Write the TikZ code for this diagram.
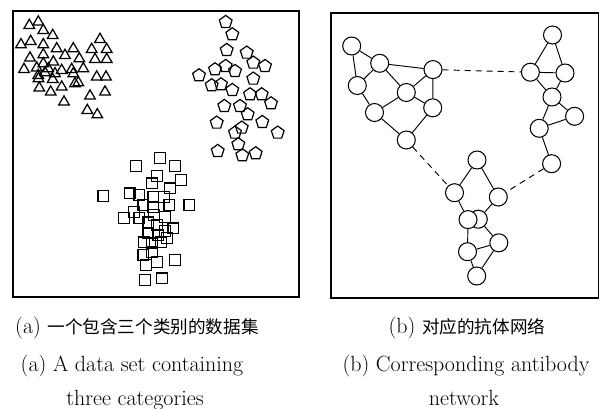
\documentclass[tikz,border=0pt]{standalone}
\usepackage{fontspec}
\newfontfamily\cjk{Noto Sans CJK SC}[Scale=0.8]
\usetikzlibrary{shapes.geometric}
\begin{document}
\begin{tikzpicture}[x=1pt,y=-1pt,
  tri/.style={regular polygon, regular polygon sides=3, draw, line width=1.25pt, inner sep=0pt, minimum size=12.3pt},
  pent/.style={regular polygon, regular polygon sides=5, draw, line width=1.2pt, inner sep=0pt, minimum size=13.4pt},
  sq/.style={rectangle, draw, line width=1.2pt, inner sep=0pt, minimum size=10.8pt},
  ab/.style={circle, draw, fill=white, line width=1.05pt, inner sep=0pt, minimum size=18pt},
  link/.style={line width=0.95pt},
  dlink/.style={line width=0.95pt, dash pattern=on 6pt off 5pt},
  frame/.style={draw, line width=1.8pt},
  captxt/.style={font=\fontsize{22}{26}\selectfont, anchor=base}
]
\useasboundingbox (0,0) rectangle (601,408);
% frames
\draw[frame] (12.8,10.8) rectangle (299,297);
\draw[frame] (331,12.7) rectangle (598.5,297.7);
% triangles
\foreach \x/\y [count=\i] in {29.3/26.7,38.3/23.3,43.3/31.7,52.7/36.7,21/46,30.7/42.7,43.3/46,100/40.7,56.7/50,73.3/50,91.7/50.7,106.7/50.7,30/59.3,43.3/56,65/56.7,79.3/60,95/60.7,106.7/60.7,24/70.7,36.7/69.3,43.3/65,53.3/63.3,48.3/70,61.7/71.7,71.7/70.7,83.3/70,38.3/76.7,55/75,73.3/75,96.7/78.3,106/78.3,39.3/89.3,50.7/93.3,61.7/88.3,75/85,78.3/84,90/97.3,105/93.3,64/103.3,87.3/111.7,97.3/116,52.7/80.7,38.5/80,45/74}
  \node[tri] (t\i) at (\x,\y-1.3) {};
% pentagons
\foreach \x/\y [count=\i] in {225.7/22.7,232.3/35,226.7/50.7,246.7/53.3,253.3/63.3,265/66.7,199/76,215/70,225.7/66.7,235/71.7,253.3/79.3,211.7/86,221/85,232.3/90.7,250/95,261.7/95,271/104,224.3/106.7,240/106.7,247.7/115,216.7/123.3,262.3/122.7,277.7/133.3,241.7/128.3,235/133.3,238.3/145,217.7/151.7,242.3/156,255.7/154}
  \node[pent] (p\i) at (\x,\y-0.6) {};
% squares
\foreach \x/\y [count=\i] in {160/157.7,135.7/165.7,175/165.7,156.7/175.7,180.7/180,151.7/183.3,170/188.3,103.3/195.7,130/193.3,139.3/195,153.3/196.7,164/196.7,143.3/205,153.3/206.7,169.3/205,189.3/205,134/211.7,124/217.7,139.3/217.7,154/215,165/216.7,148.3/222.3,156.7/225,173.3/228.3,165/231,148.3/233.3,158.3/235,166.7/237.7,144/242.3,160.7/242.3,151.7/243.3,143.3/255,151.7/252.3,156.7/261.7,146/265,175/260,145/280,161.7/278.3}
  \node[sq] (s\i) at (\x,\y) {};
% antibody network
\node[ab] (A) at (351.7,46) {};
\node[ab] (B) at (379.7,63.3) {};
\node[ab] (C) at (357.3,85.5) {};
\node[ab] (D) at (433,69.6) {};
\node[ab] (E) at (406.3,92.5) {};
\node[ab] (F) at (432.7,107.8) {};
\node[ab] (G) at (374.5,112.5) {};
\node[ab] (H) at (406.3,140) {};
\node[ab] (I) at (552.5,35) {};
\node[ab] (J) at (530.4,72.2) {};
\node[ab] (K) at (565,73) {};
\node[ab] (L) at (552,97) {};
\node[ab] (M) at (574.6,116.3) {};
\node[ab] (N) at (539.2,128.3) {};
\node[ab] (O) at (551.6,163.7) {};
\node[ab] (P) at (477,160) {};
\node[ab] (Q) at (454.5,192.7) {};
\node[ab] (R) at (498.3,197) {};
\node[ab] (S) at (478.3,219.2) {};
\node[ab] (T) at (468,219.6) {};
\node[ab] (U) at (498.8,242.8) {};
\node[ab] (V) at (467.5,251.7) {};
\node[ab] (W) at (476.7,276) {};
\foreach \a/\b in {A/B,A/C,B/C,B/D,B/E,D/E,D/F,E/F,E/G,C/G,G/H,F/H,I/J,I/K,J/K,J/L,K/L,L/M,L/N,M/N,N/O,P/Q,P/R,Q/T,R/S,T/V,S/U,V/U,V/W,U/W}
  \draw[link] (\a) -- (\b);
\draw[dlink] (D) -- (J);
\draw[dlink] (H) -- (Q);
\draw[dlink] (O) -- (R);
% captions
\node[captxt] (ca1) at (137,333) {(a) {\cjk 一个包含三个类别的数据集}};
\node[captxt] (ca2) at (132,371) {(a) A data set containing};
\node[captxt] (ca3) at (135,405) {three categories};
\node[captxt] (cb1) at (467,333) {(b) {\cjk 对应的抗体网络}};
\node[captxt] (cb2) at (466,371) {(b) Corresponding antibody};
\node[captxt] (cb3) at (464,405) {network};
\end{tikzpicture}
\end{document}
